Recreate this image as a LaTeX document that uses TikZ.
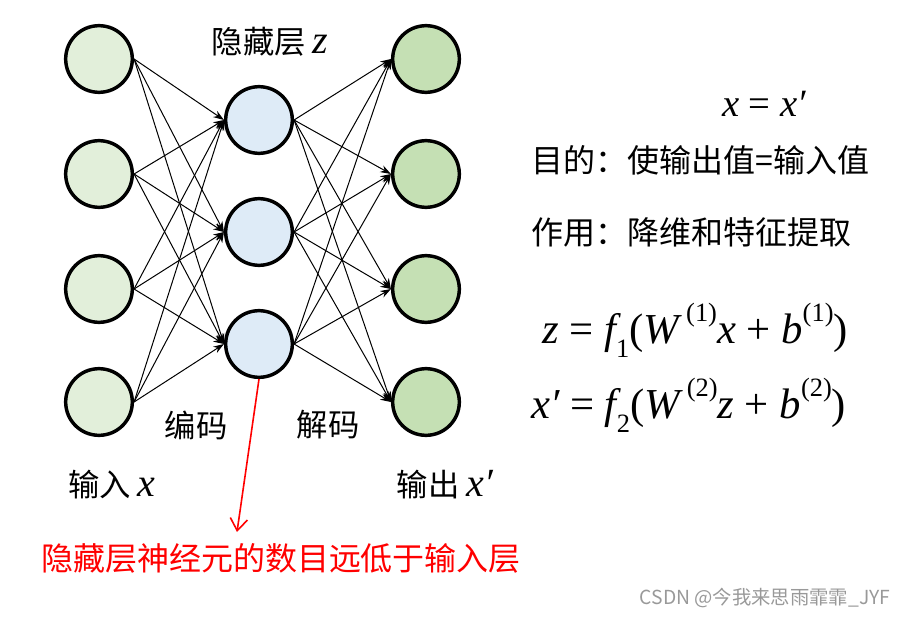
\documentclass[tikz,border=0pt]{standalone}
\usepackage{fontspec}
\setmainfont{Noto Sans CJK SC}
\newfontfamily\tms{Liberation Serif}
\usetikzlibrary{arrows.meta}
\newcommand\mi[1]{{\tms\itshape #1}}
\newcommand\lo[1]{\raisebox{-0.32em}{\scalebox{0.62}{\tms #1}}}
\newcommand\hi[1]{\raisebox{0.52em}{\scalebox{0.62}{\tms #1}}}
\definecolor{inC}{HTML}{E2EFDA}
\definecolor{hidC}{HTML}{DEEBF7}
\definecolor{outC}{HTML}{C5E0B4}
\begin{document}
\begin{tikzpicture}[x=0.75pt,y=-0.75pt,
  neuron/.style={circle,draw=black,line width=2.6pt,minimum size=50pt,inner sep=0pt},
  conn/.style={line width=0.75pt,-{Stealth[length=8pt,width=5.5pt]}},
  lbl/.style={font=\fontsize{23.5}{28}\selectfont,inner sep=0pt},
  eq/.style={font=\fontsize{32}{38}\selectfont\tms,inner sep=0pt}]
\useasboundingbox (0,0) rectangle (907,617);
\foreach \i/\y in {1/59,2/174,3/289,4/402}{
  \node[neuron,fill=inC] (i\i) at (99,\y) {};
  \node[neuron,fill=outC] (o\i) at (426,\y) {};
}
\foreach \j/\y in {1/120,2/232,3/344}{
  \node[neuron,fill=hidC] (h\j) at (259,\y) {};
}
\foreach \i in {1,...,4}{\foreach \j in {1,2,3}{
  \draw[conn] (i\i.east) -- (h\j.west);
  \draw[conn] (h\j.east) -- (o\i.west);
}}
\node[lbl] (th) at (270,42) {隐藏层 \mi{\fontsize{30}{34}\selectfont z}};
\node[lbl] (enc) at (196,425) {编码};
\node[lbl] (dec) at (328,425) {解码};
\node[lbl] (tin) at (112,485) {输入 \mi{\fontsize{30}{34}\selectfont x}};
\node[lbl] (tout) at (445,485) {输出 \mi{\fontsize{30}{34}\selectfont x′}};
\node[eq,font=\fontsize{29}{34}\selectfont\tms] (eq0) at (764,104) {\mi{x} = \mi{x′}};
\node[lbl,anchor=west,font=\fontsize{24}{28}\selectfont] (goal) at (531,160) {目的：使输出值=输入值};
\node[lbl,anchor=west,font=\fontsize{24}{28}\selectfont] (use) at (531,232) {作用：降维和特征提取};
\node[eq,anchor=west] (eq1) at (542,330) {\mi{z} = \mi{f}\lo{1}(\mi{W}\,\hi{(1)}\mi{x} + \mi{b}\hi{(1)})};
\node[eq,anchor=west] (eq2) at (531,405) {\mi{x′} = \mi{f}\lo{2}(\mi{W}\,\hi{(2)}\mi{z} + \mi{b}\hi{(2)})};
\coordinate (rend) at (237,532);
\draw[red,line width=1.2pt,-{Straight Barb[length=9pt,width=13pt]}] (h3.south) -- (rend);
\node[lbl,text=red,font=\fontsize{24}{28}\selectfont] (note) at (281,558) {隐藏层神经元的数目远低于输入层};
\node[inner sep=0pt,text=black!40,font=\fontsize{14.5}{17}\selectfont] (wm) at (765,598) {CSDN @今我来思雨霏霏\_JYF};
\end{tikzpicture}
\end{document}
